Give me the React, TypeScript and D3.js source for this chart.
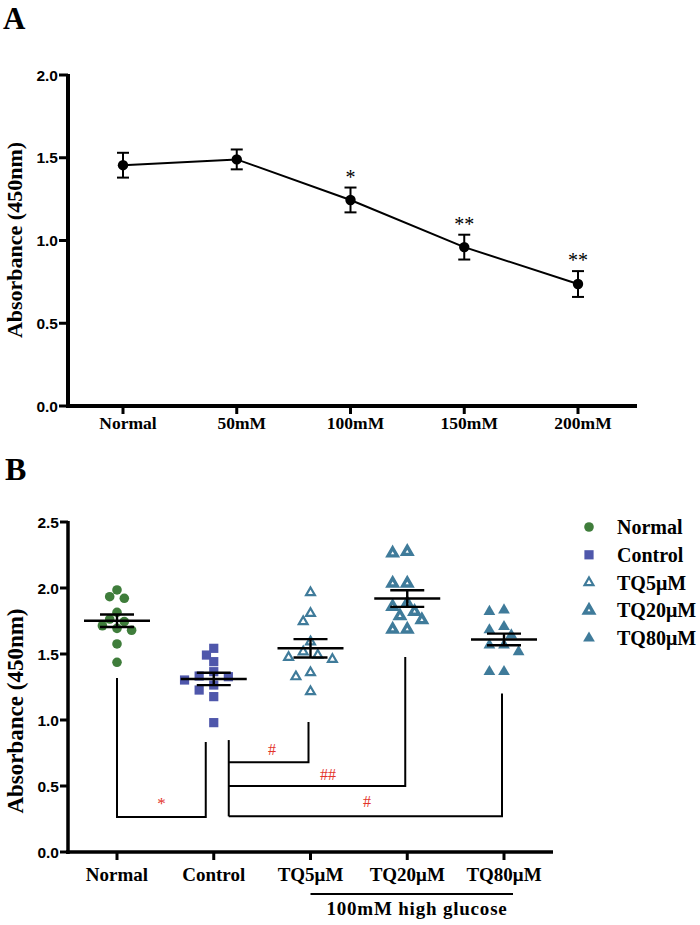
import React from "react";
import * as d3 from "d3";

// ---------- Panel A data ----------
const doseLabels = ["Normal", "50mM", "100mM", "150mM", "200mM"];
const doseMeans = [1.455, 1.49, 1.245, 0.96, 0.737];
const doseSems = [0.075, 0.06, 0.075, 0.075, 0.078];
const doseSig = ["", "", "*", "**", "**"];
const yTicksA = [0, 0.5, 1.0, 1.5, 2.0];

// ---------- Panel B data ----------
const groups = ["Normal", "Control", "TQ5μM", "TQ20μM", "TQ80μM"];
const normalVals = [1.985, 1.934, 1.922, 1.816, 1.765, 1.745, 1.714, 1.694, 1.68, 1.576, 1.437];
const controlVals = [1.543, 1.492, 1.442, 1.366, 1.333, 1.328, 1.303, 1.265, 1.227, 1.177, 0.98];
const tq5Vals = [1.965, 1.808, 1.745, 1.593, 1.517, 1.492, 1.475, 1.459, 1.359, 1.328, 1.215];
const tq20Vals = [2.275, 2.263, 2.035, 2.035, 1.884, 1.859, 1.821, 1.788, 1.758, 1.687, 1.687];
const tq80Vals = [1.833, 1.821, 1.707, 1.682, 1.644, 1.568, 1.568, 1.517, 1.366, 1.366];
const groupMeans = [1.752, 1.311, 1.543, 1.92, 1.61];
const groupSems = [0.047, 0.047, 0.07, 0.063, 0.044];
const yTicksB = [0, 0.5, 1.0, 1.5, 2.0, 2.5];
const groupColors = ["#3f7d3b", "#4f57ab", "#3f7b9a", "#3f7b9a", "#3f7b9a"];

// significance brackets (values in absorbance units)
const normalBracket = { top: 1.318, bottom: 0.265, rightTop: 0.833, label: "*" };
const controlStemTop = 0.848;
const tqBrackets = [
  { group: "TQ5μM", top: 0.985, level: 0.68, label: "#" },
  { group: "TQ20μM", top: 1.477, level: 0.5, label: "##" },
  { group: "TQ80μM", top: 1.2, level: 0.27, label: "#" },
];

const SERIF = "'Liberation Serif', 'Times New Roman', serif";
const SANS = "'Liberation Sans', Arial, sans-serif";
const RED = "#e3342a";

function beeswarm(vals: number[], y: (v: number) => number, step: number, d: number) {
  const placed: { x: number; y: number; v: number }[] = [];
  const order = vals.map((v, i) => i).sort((a, b) => vals[b] - vals[a]);
  const ks = [0, -1, 1, -2, 2, -3, 3, -4, 4];
  order.forEach((i) => {
    const yy = y(vals[i]);
    for (const k of ks) {
      const xx = k * step;
      const ok = placed.every((p) => (p.x - xx) ** 2 + (p.y - yy) ** 2 >= d * d);
      if (ok) {
        placed.push({ x: xx, y: yy, v: vals[i] });
        break;
      }
    }
  });
  return placed;
}

function Marker({ g, x, y }: { g: number; x: number; y: number }) {
  const c = groupColors[g];
  if (g === 0) return <circle cx={x} cy={y} r={4.8} fill={c} />;
  if (g === 1) return <rect x={x - 4.6} y={y - 4.6} width={9.2} height={9.2} fill={c} />;
  const tri = d3.symbol(d3.symbolTriangle);
  if (g === 2)
    return <path d={tri.size(34)() || ""} transform={`translate(${x},${y})`} fill="white" stroke={c} strokeWidth={2.2} />;
  if (g === 3)
    return <path d={tri.size(36)() || ""} transform={`translate(${x},${y})`} fill="white" stroke={c} strokeWidth={3.4} strokeLinejoin="miter" />;
  return <path d={tri.size(60)() || ""} transform={`translate(${x},${y})`} fill={c} />;
}

export default function App() {
  // Panel A scales
  const xA = d3.scalePoint<string>().domain(doseLabels).range([123, 578]);
  const yA = d3.scaleLinear().domain([0, 2]).range([406, 75]);
  const axA = { left: 68, right: 637 };
  const lineA = d3
    .line<number>()
    .x((_, i) => xA(doseLabels[i])!)
    .y((d) => yA(d));

  // Panel B scales
  const xB = d3.scalePoint<string>().domain(groups).range([117, 504]);
  const yB = d3.scaleLinear().domain([0, 2.5]).range([852, 522]);
  const axB = { left: 68, right: 553 };
  const allVals = [normalVals, controlVals, tq5Vals, tq20Vals, tq80Vals];
  const dists = [9.6, 9.6, 11, 11, 11];

  const ctrlX = xB("Control")!;
  const stemX = ctrlX + 15;

  return (
    <svg width={700} height={925} style={{ position: "absolute", left: 0, top: 0, background: "white" }}>
      <rect width={700} height={925} fill="white" />
      {/* ===== Panel A ===== */}
      <text x={3} y={29} fontFamily={SERIF} fontWeight="bold" fontSize={31}>A</text>
      <text
        transform={`translate(22,240) rotate(-90)`}
        textAnchor="middle"
        fontFamily={SERIF}
        fontWeight="bold"
        fontSize={22}
      >
        Absorbance (450nm)
      </text>
      {/* axes */}
      <line x1={axA.left} x2={axA.left} y1={yA(2) - 1} y2={yA(0) + 2} stroke="black" strokeWidth={4} />
      <line x1={axA.left - 2} x2={axA.right} y1={yA(0)} y2={yA(0)} stroke="black" strokeWidth={4} />
      {yTicksA.map((t) => (
        <g key={t}>
          <line x1={axA.left - 9} x2={axA.left} y1={yA(t)} y2={yA(t)} stroke="black" strokeWidth={3} />
          <text x={axA.left - 10} y={yA(t) + 5.5} textAnchor="end" fontFamily={SANS} fontWeight="bold" fontSize={15.5}>
            {d3.format(".1f")(t)}
          </text>
        </g>
      ))}
      {doseLabels.map((l) => (
        <g key={l}>
          <line x1={xA(l)} x2={xA(l)} y1={yA(0)} y2={yA(0) + 8} stroke="black" strokeWidth={3} />
          <text x={xA(l)! + 5} y={429} textAnchor="middle" fontFamily={SERIF} fontWeight="bold" fontSize={17.5}>
            {l}
          </text>
        </g>
      ))}
      <path d={lineA(doseMeans) || ""} fill="none" stroke="black" strokeWidth={2} />
      {doseMeans.map((m, i) => {
        const x = xA(doseLabels[i])!;
        const t = yA(m + doseSems[i]);
        const b = yA(m - doseSems[i]);
        return (
          <g key={i}>
            <line x1={x} x2={x} y1={t} y2={b} stroke="black" strokeWidth={2} />
            <line x1={x - 6} x2={x + 6} y1={t} y2={t} stroke="black" strokeWidth={2} />
            <line x1={x - 6} x2={x + 6} y1={b} y2={b} stroke="black" strokeWidth={2} />
            <circle cx={x} cy={yA(m)} r={5.2} fill="black" />
            {doseSig[i] && (
              <text x={x} y={t - 4} textAnchor="middle" fontFamily={SERIF} fontSize={20}>
                {doseSig[i]}
              </text>
            )}
          </g>
        );
      })}

      {/* ===== Panel B ===== */}
      <text x={5} y={480} fontFamily={SERIF} fontWeight="bold" fontSize={32}>B</text>
      <text
        transform={`translate(23,711) rotate(-90)`}
        textAnchor="middle"
        fontFamily={SERIF}
        fontWeight="bold"
        fontSize={23}
      >
        Absorbance (450nm)
      </text>
      <line x1={axB.left} x2={axB.left} y1={yB(2.5) - 1} y2={yB(0) + 2} stroke="black" strokeWidth={3.5} />
      <line x1={axB.left - 2} x2={axB.right} y1={yB(0)} y2={yB(0)} stroke="black" strokeWidth={3.5} />
      {yTicksB.map((t) => (
        <g key={t}>
          <line x1={axB.left - 8} x2={axB.left} y1={yB(t)} y2={yB(t)} stroke="black" strokeWidth={3} />
          <text x={axB.left - 9} y={yB(t) + 5.5} textAnchor="end" fontFamily={SANS} fontWeight="bold" fontSize={15.5}>
            {d3.format(".1f")(t)}
          </text>
        </g>
      ))}
      {groups.map((g) => (
        <g key={g}>
          <line x1={xB(g)} x2={xB(g)} y1={yB(0)} y2={yB(0) + 8} stroke="black" strokeWidth={3} />
          <text x={xB(g)} y={881} textAnchor="middle" fontFamily={SERIF} fontWeight="bold" fontSize={19}>
            {g}
          </text>
        </g>
      ))}
      {/* 100mM high glucose */}
      <line x1={xB("TQ5μM")} x2={xB("TQ80μM")! + 9} y1={894} y2={894} stroke="black" strokeWidth={2} />
      <text x={417} y={915} textAnchor="middle" fontFamily={SERIF} fontWeight="bold" fontSize={19} letterSpacing={0.8}>
        100mM high glucose
      </text>

      {/* points */}
      {allVals.map((vals, gi) => {
        const cx = xB(groups[gi])!;
        const pts = beeswarm(vals, (v) => yB(v), 7.3, dists[gi]);
        return (
          <g key={gi}>
            {pts.map((p, j) => (
              <Marker key={j} g={gi} x={cx + p.x} y={p.y} />
            ))}
          </g>
        );
      })}
      {/* mean & SEM */}
      {groupMeans.map((m, gi) => {
        const cx = xB(groups[gi])!;
        const t = yB(m + groupSems[gi]);
        const b = yB(m - groupSems[gi]);
        return (
          <g key={gi} stroke="black">
            <line x1={cx - 33} x2={cx + 33} y1={yB(m)} y2={yB(m)} strokeWidth={2.6} />
            <line x1={cx - 17} x2={cx + 17} y1={t} y2={t} strokeWidth={2.4} />
            <line x1={cx - 17} x2={cx + 17} y1={b} y2={b} strokeWidth={2.4} />
            <line x1={cx} x2={cx} y1={t} y2={b} strokeWidth={2.4} />
          </g>
        );
      })}

      {/* brackets */}
      <g stroke="black" strokeWidth={2} fill="none">
        <polyline
          points={`${xB("Normal")},${yB(normalBracket.top)} ${xB("Normal")},${yB(normalBracket.bottom)} ${ctrlX - 8},${yB(
            normalBracket.bottom
          )} ${ctrlX - 8},${yB(normalBracket.rightTop)}`}
        />
        <line x1={stemX} x2={stemX} y1={yB(controlStemTop)} y2={yB(tqBrackets[2].level)} />
        {tqBrackets.map((b) => (
          <polyline
            key={b.group}
            points={`${stemX},${yB(b.level)} ${xB(b.group)! - 2},${yB(b.level)} ${xB(b.group)! - 2},${yB(b.top)}`}
          />
        ))}
      </g>
      <text x={(xB("Normal")! + ctrlX - 8) / 2} y={yB(normalBracket.bottom) - 8} textAnchor="middle" fontFamily={SERIF} fontSize={17} fill={RED}>
        {normalBracket.label}
      </text>
      <text x={272} y={yB(tqBrackets[0].level) - 7} textAnchor="middle" fontFamily={SERIF} fontSize={16} fill={RED}>
        {tqBrackets[0].label}
      </text>
      <text x={328} y={yB(tqBrackets[1].level) - 6} textAnchor="middle" fontFamily={SERIF} fontSize={16} fill={RED}>
        {tqBrackets[1].label}
      </text>
      <text x={367} y={yB(tqBrackets[2].level) - 9} textAnchor="middle" fontFamily={SERIF} fontSize={16} fill={RED}>
        {tqBrackets[2].label}
      </text>

      {/* legend */}
      {groups.map((g, i) => (
        <g key={g}>
          <Marker g={i} x={589} y={527 + i * 27.8} />
          <text x={617} y={534 + i * 27.8} fontFamily={SERIF} fontWeight="bold" fontSize={20}>
            {g}
          </text>
        </g>
      ))}
    </svg>
  );
}
